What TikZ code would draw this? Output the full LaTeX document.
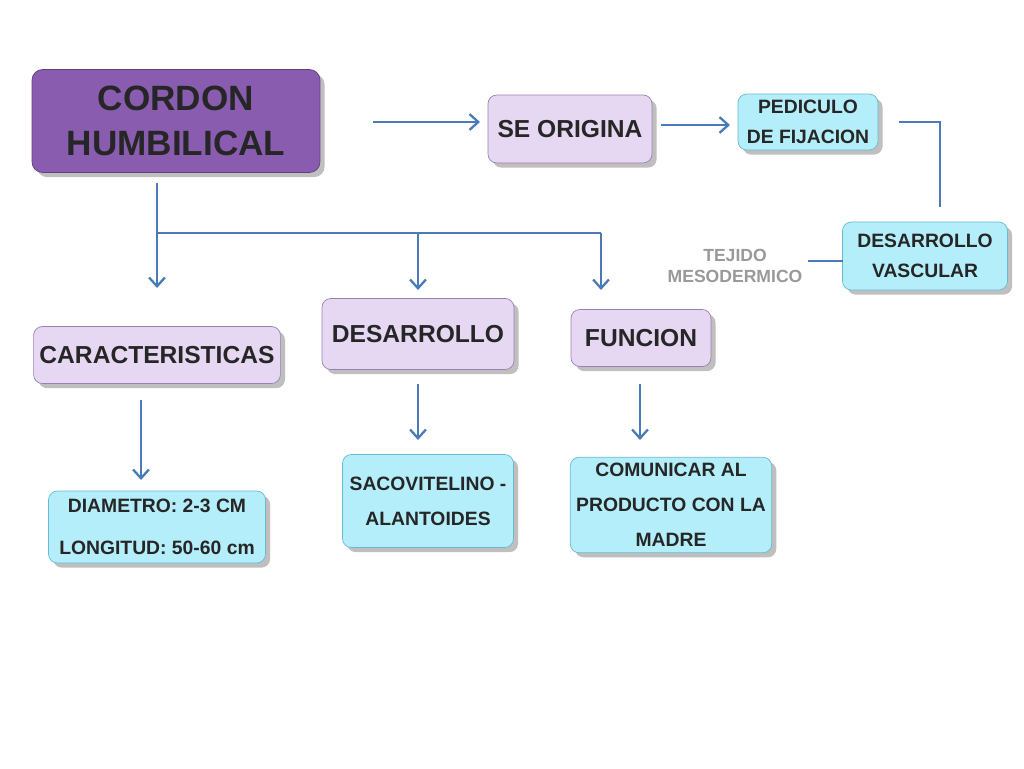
\documentclass[tikz,border=0pt]{standalone}
\usepackage{fontspec}
\setmainfont{Liberation Sans}
\usetikzlibrary{arrows.meta,shadows}
\definecolor{arrowblue}{HTML}{4A7AB8}
\definecolor{lilac}{HTML}{E6D8F2}
\definecolor{lilacdraw}{HTML}{9A80B0}
\definecolor{cyanbox}{HTML}{B4EEFA}
\definecolor{cyandraw}{HTML}{6AB8D0}
\definecolor{titlebox}{HTML}{8A5CB0}
\tikzset{
  main/.style={rectangle, rounded corners=6pt, draw=titlebox!70!black, fill=titlebox, text=black!85, font=\bfseries\fontsize{20}{26}\selectfont, align=center, drop shadow},
  lbox/.style={rectangle, rounded corners=5pt, draw=lilacdraw, fill=lilac, text=black!85, font=\bfseries\fontsize{14}{17}\selectfont, align=center, drop shadow},
  cbox/.style={rectangle, rounded corners=5pt, draw=cyandraw, fill=cyanbox, text=black!85, font=\bfseries\fontsize{11}{17}\selectfont, align=center, drop shadow},
  link/.style={draw=arrowblue, line width=1.3pt},
  arr/.style={link, -{Straight Barb[length=5pt,width=9pt]}}
}
\begin{document}
\begin{tikzpicture}[x=0.02cm, y=-0.02cm]
  \useasboundingbox[fill=white] (0,0) rectangle (1024,768);
  % boxes
  \node[main, minimum width=5.76cm, minimum height=2.06cm] (cordon) at (176,121) {CORDON\\HUMBILICAL};
  \node[lbox, minimum width=3.28cm, minimum height=1.36cm] (origina) at (570,129) {SE ORIGINA};
  \node[cbox, minimum width=2.8cm, minimum height=1.12cm] (pediculo) at (808,122) {PEDICULO\\DE FIJACION};
  \node[cbox, minimum width=3.3cm, minimum height=1.36cm] (vascular) at (925,256) {DESARROLLO\\VASCULAR};
  \node[font=\bfseries\fontsize{10}{12}\selectfont, text=black!40, align=center] (tejido) at (735,266) {TEJIDO\\MESODERMICO};
  \node[lbox, minimum width=4.92cm, minimum height=1.14cm] (caract) at (157,355) {CARACTERISTICAS};
  \node[lbox, minimum width=3.84cm, minimum height=1.42cm] (desarrollo) at (418,334) {DESARROLLO};
  \node[lbox, minimum width=2.8cm, minimum height=1.14cm] (funcion) at (641,338) {FUNCION};
  \node[cbox, minimum width=4.34cm, minimum height=1.44cm, font=\bfseries\fontsize{11}{24}\selectfont] (medidas) at (157,527) {DIAMETRO: 2-3 CM\\LONGITUD: 50-60 cm};
  \node[cbox, minimum width=3.42cm, minimum height=1.86cm, font=\bfseries\fontsize{11}{20}\selectfont] (saco) at (428,501) {SACOVITELINO -\\ALANTOIDES};
  \node[cbox, minimum width=4.02cm, minimum height=1.7cm, font=\bfseries\fontsize{11}{20}\selectfont] (comunicar) at (671,505) {COMUNICAR AL\\PRODUCTO CON LA\\MADRE};
  % connector ends
  \coordinate (o1) at (373,122);
  \coordinate (o2) at (480,122);
  \coordinate (p1) at (661,125);
  \coordinate (p2) at (730,125);
  \coordinate (v1) at (899,122);
  \coordinate (v2) at (940,207);
  \coordinate (t1) at (808,261);
  \coordinate (t2) at (843,261);
  \coordinate (c0) at (157,183);
  \coordinate (c1) at (157,288);
  \coordinate (d1) at (418,290);
  \coordinate (f1) at (601,290);
  \coordinate (k1) at (141,400);
  \coordinate (k2) at (141,480);
  \coordinate (s1) at (418,384);
  \coordinate (s2) at (418,440);
  \coordinate (m1) at (640,384);
  \coordinate (m2) at (640,440);
  % connectors
  \draw[arr] (o1) -- (o2);
  \draw[arr] (p1) -- (p2);
  \draw[link] (v1) -| (v2);
  \draw[link] (t1) -- (t2);
  \draw[arr] (c0) -- (c1);
  \draw[link] (157,233) -- (601,233);
  \draw[arr] (418,233) -- (d1);
  \draw[arr] (601,233) -- (f1);
  \draw[arr] (k1) -- (k2);
  \draw[arr] (s1) -- (s2);
  \draw[arr] (m1) -- (m2);
\end{tikzpicture}
\end{document}
